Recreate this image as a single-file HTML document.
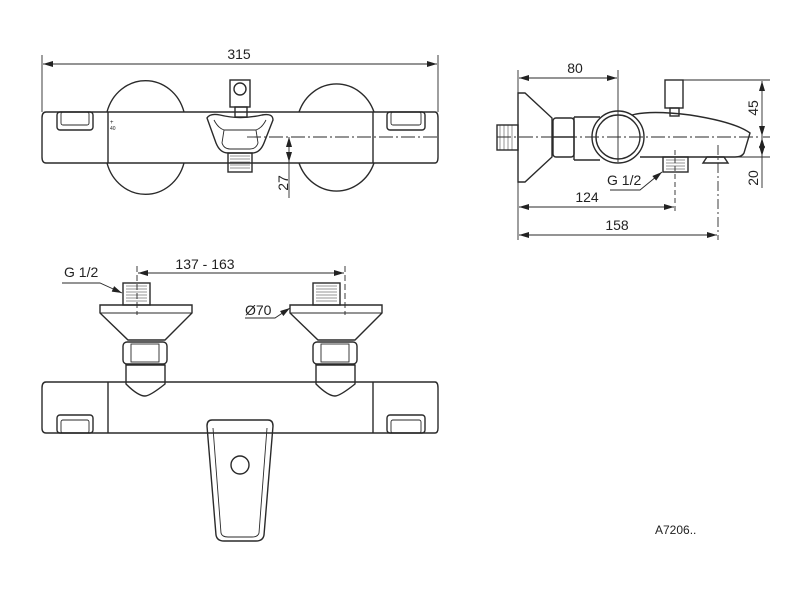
<!DOCTYPE html>
<html><head><meta charset="utf-8"><style>
html,body{margin:0;padding:0;background:#fff;width:800px;height:600px;overflow:hidden}
svg{display:block}
text{font-family:"Liberation Sans",sans-serif;fill:#222}
</style></head><body>
<svg width="800" height="600" viewBox="0 0 800 600" xmlns="http://www.w3.org/2000/svg">
<defs>
<marker id="a" viewBox="0 0 10 6" refX="10" refY="3" markerWidth="11" markerHeight="6" orient="auto-start-reverse" markerUnits="userSpaceOnUse"><path d="M0,0L10,3L0,6z" fill="#222"/></marker>
</defs>
<g fill="none" stroke="#2a2a2a" stroke-width="1.4">
<line x1="42" y1="55" x2="42" y2="112" stroke-width="0.9"/>
<line x1="438" y1="55" x2="438" y2="112" stroke-width="0.9"/>
<line x1="43" y1="64" x2="437" y2="64" marker-start="url(#a)" marker-end="url(#a)" stroke-width="0.9"/>
<path d="M107,112 A40,43 0 0 1 184,112"/>
<path d="M107,163 A40,43 0 0 0 184,163"/>
<path d="M299,112 A40,43 0 0 1 374,112"/>
<path d="M299,163 A40,43 0 0 0 374,163"/>
<path d="M46,112 H435 Q438,112 438,118 V157 Q438,163 435,163 H46 Q42,163 42,157 V118 Q42,112 46,112 Z"/>
<line x1="108" y1="112" x2="108" y2="163"/>
<line x1="373" y1="112" x2="373" y2="163"/>
<rect x="57" y="112" width="36" height="18" rx="3"/>
<rect x="61" y="112" width="28" height="13" rx="2" stroke-width="0.9"/>
<rect x="387" y="112" width="38" height="18" rx="3"/>
<rect x="391" y="112" width="30" height="13" rx="2" stroke-width="0.9"/>
<rect x="230" y="80" width="20" height="27"/>
<circle cx="240" cy="89" r="6"/>
<rect x="235" y="107" width="12" height="10"/>
<path d="M207,118 Q210,113 220,115 Q240,120 262,115 Q273,113 273,120 L264,143 Q260,153 252,153 H228 Q220,153 216,143 Z"/>
<path d="M214,120 Q218,128 224,130 H256 Q262,128 266,120" stroke-width="0.9"/>
<path d="M224,130 L222,143 Q224,149 230,149 H250 Q256,149 258,143 L256,130" stroke-width="0.9"/>
<rect x="228" y="153" width="24" height="19"/>
<path d="M230,156H250M230,159H250M230,162H250M230,165H250M230,168H250" stroke-width="0.5"/>
<line x1="247" y1="137" x2="440" y2="137" stroke-dasharray="14,3,2,3" stroke-width="0.9"/>
<line x1="255" y1="163" x2="296" y2="163" stroke-width="0.9"/>
<line x1="289" y1="137" x2="289" y2="162" marker-start="url(#a)" marker-end="url(#a)" stroke-width="0.9"/>
<line x1="289" y1="162" x2="289" y2="198" stroke-width="0.9"/>
<line x1="518" y1="70" x2="518" y2="240" stroke-width="0.9"/>
<line x1="618" y1="70" x2="618" y2="162" stroke-width="0.9"/>
<line x1="519" y1="78" x2="617" y2="78" marker-start="url(#a)" marker-end="url(#a)" stroke-width="0.9"/>
<rect x="497" y="125" width="21" height="25"/>
<path d="M500,125V150M504,125V150M508,125V150M512,125V150" stroke-width="0.5"/>
<path d="M518,93 H525 L552,118 V157 L525,182 H518 Z"/>
<rect x="553" y="118" width="21" height="39" rx="3"/>
<line x1="553" y1="137" x2="574" y2="137"/>
<path d="M574,117 H600 M574,160 H600 M574,117 V160"/>
<circle cx="618" cy="137" r="26"/>
<circle cx="618" cy="137" r="22"/>
<path d="M632,115 Q650,110 690,115 Q735,122 750,133 L744,153 Q742,157 735,157 H640"/>
<rect x="665" y="80" width="18" height="28"/>
<rect x="670" y="108" width="9" height="8"/>
<line x1="683" y1="80" x2="770" y2="80" stroke-width="0.9"/>
<line x1="735" y1="157" x2="770" y2="157" stroke-width="0.9"/>
<line x1="497" y1="137" x2="770" y2="137" stroke-dasharray="14,3,2,3" stroke-width="0.9"/>
<line x1="762" y1="81" x2="762" y2="136" marker-start="url(#a)" marker-end="url(#a)" stroke-width="0.9"/>
<line x1="762" y1="138" x2="762" y2="156" marker-start="url(#a)" marker-end="url(#a)" stroke-width="0.9"/>
<line x1="762" y1="156" x2="762" y2="188" stroke-width="0.9"/>
<rect x="663" y="157" width="25" height="15"/>
<path d="M666,160H685M666,163H685M666,166H685M666,169H685" stroke-width="0.5"/>
<path d="M703,163 L707,157 H724 L728,163 Z"/>
<line x1="675" y1="150" x2="675" y2="212" stroke-dasharray="5,3" stroke-width="0.9"/>
<line x1="718" y1="145" x2="718" y2="240" stroke-dasharray="10,3,2,3" stroke-width="0.9"/>
<line x1="519" y1="207" x2="674" y2="207" marker-start="url(#a)" marker-end="url(#a)" stroke-width="0.9"/>
<line x1="519" y1="235" x2="717" y2="235" marker-start="url(#a)" marker-end="url(#a)" stroke-width="0.9"/>
<path d="M610,190 H640 L662,172" marker-end="url(#a)" stroke-width="0.9"/>
<line x1="137" y1="266" x2="137" y2="315" stroke-width="0.9" stroke-dasharray="6,3"/>
<line x1="345" y1="266" x2="345" y2="315" stroke-width="0.9" stroke-dasharray="6,3"/>
<line x1="138" y1="273" x2="344" y2="273" marker-start="url(#a)" marker-end="url(#a)" stroke-width="0.9"/>
<path d="M62,283 H100 L122,293" marker-end="url(#a)" stroke-width="0.9"/>
<path d="M245,318 H275 L290,308" marker-end="url(#a)" stroke-width="0.9"/>
<g id="conn">
<rect x="123" y="283" width="27" height="22"/>
<path d="M126,286H147M126,289H147M126,292H147M126,295H147M126,298H147M126,301H147" stroke-width="0.5"/>
<path d="M100,305 H192 V313 L165,340 H128 L100,313 Z"/>
<line x1="100" y1="313" x2="192" y2="313" stroke-width="0.9"/>
<rect x="123" y="342" width="44" height="22" rx="4"/>
<rect x="131" y="344" width="28" height="18" stroke-width="0.9"/>
<path d="M126,365 H165 V384 Q150,396 145,396 Q138,396 126,384 Z"/>
</g>
<use href="#conn" x="190"/>
<path d="M46,382 H435 Q438,382 438,388 V428 Q438,433 435,433 H46 Q42,433 42,428 V388 Q42,382 46,382 Z"/>
<line x1="108" y1="382" x2="108" y2="433"/>
<line x1="373" y1="382" x2="373" y2="433"/>
<rect x="57" y="415" width="36" height="18" rx="3"/>
<rect x="61" y="420" width="28" height="13" rx="2" stroke-width="0.9"/>
<rect x="387" y="415" width="38" height="18" rx="3"/>
<rect x="391" y="420" width="30" height="13" rx="2" stroke-width="0.9"/>
<path d="M212,420 H268 Q273,420 273,426 L264,535 Q263,541 256,541 H224 Q217,541 216,535 L207,426 Q207,420 212,420 Z"/>
<path d="M213,428 L221,533 Q222,537 228,537 H252 Q258,537 259,533 L267,428" stroke-width="0.9"/>
<circle cx="240" cy="465" r="9"/>
</g>
<g font-size="14">
<text x="239" y="59" text-anchor="middle">315</text>
<text transform="translate(288,183) rotate(-90)" text-anchor="middle">27</text>
<text x="575" y="73" text-anchor="middle">80</text>
<text transform="translate(758,108) rotate(-90)" text-anchor="middle">45</text>
<text transform="translate(758,178) rotate(-90)" text-anchor="middle">20</text>
<text x="607" y="185">G 1/2</text>
<text x="587" y="202" text-anchor="middle">124</text>
<text x="617" y="230" text-anchor="middle">158</text>
<text x="205" y="269" text-anchor="middle">137 - 163</text>
<text x="64" y="277">G 1/2</text>
<text x="245" y="315">Ø70</text>
<text x="655" y="534" font-size="12">A7206..</text>
<text x="110" y="124" font-size="6">+</text>
<text x="110" y="130" font-size="5">40</text>
</g>
</svg>
</body></html>
